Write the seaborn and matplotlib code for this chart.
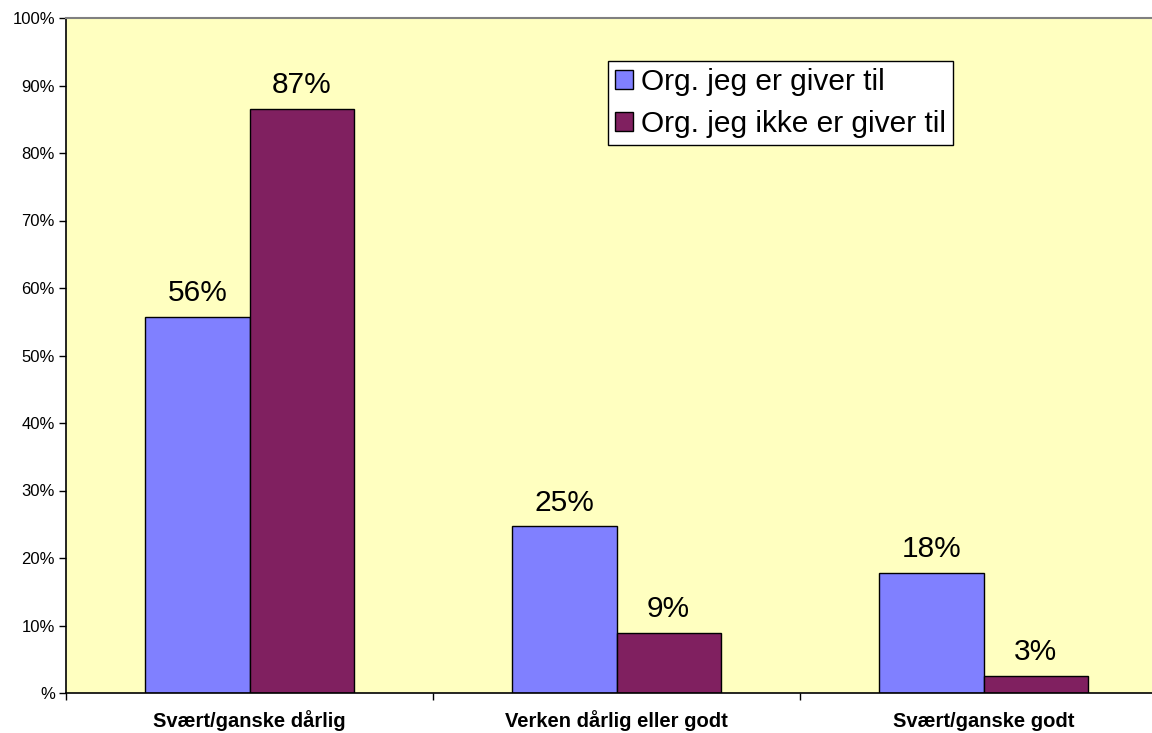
import matplotlib
matplotlib.use("Agg")
import matplotlib.pyplot as plt
import seaborn as sns
import pandas as pd
from matplotlib.ticker import FixedLocator, FuncFormatter

categories = ["Svært/ganske dårlig", "Verken dårlig eller godt", "Svært/ganske godt"]
series_names = ["Org. jeg er giver til", "Org. jeg ikke er giver til"]
giver = [55.7, 24.7, 17.8]
ikke_giver = [86.5, 8.9, 2.5]
value_labels_giver = ["56%", "25%", "18%"]
value_labels_ikke = ["87%", "9%", "3%"]
colors = ["#8080FF", "#802060"]

sns.set_theme(style="white")
plt.rcParams['font.family'] = ['Liberation Sans', 'DejaVu Sans']
plt.rcParams['text.color'] = 'black'
plt.rcParams['xtick.labelcolor'] = 'black'
plt.rcParams['ytick.labelcolor'] = 'black'

df = pd.DataFrame({
    "cat": categories * 2,
    "val": giver + ikke_giver,
    "series": [series_names[0]] * 3 + [series_names[1]] * 3,
})

fig = plt.figure(figsize=(11.52, 7.33), dpi=100)
ax = fig.add_axes([66 / 1152, 40 / 733, 1101 / 1152, 675 / 733])
ax.set_facecolor("#FFFFC0")

sns.barplot(data=df, x="cat", y="val", hue="series", palette=colors,
            width=0.567, gap=0, edgecolor="black", linewidth=1.0,
            saturation=1, ax=ax)

ax.set_xlim(-0.5, 2.5)
ax.set_ylim(0, 100)

labels_all = [value_labels_giver, value_labels_ikke]
for cont, labs in zip(ax.containers, labels_all):
    ax.bar_label(cont, labels=labs, padding=7, fontsize=21.5, color="black")

ax.yaxis.set_major_locator(FixedLocator(range(0, 101, 10)))
ax.yaxis.set_major_formatter(FuncFormatter(lambda v, p: "%" if v == 0 else f"{int(v)}%"))
ax.tick_params(axis="y", which="major", left=True, length=5, width=1, color="black",
               labelsize=12, pad=3)

ax.set_xticks([0, 1, 2])
ax.set_xticklabels(categories, fontsize=14.5, fontweight="bold")
for lab in ax.get_xticklabels():
    lab.set_verticalalignment("baseline")
ax.xaxis.set_minor_locator(FixedLocator([-0.5, 0.5, 1.5]))
ax.tick_params(axis="x", which="major", bottom=False, length=0, pad=24.5)
ax.tick_params(axis="x", which="minor", bottom=True, length=5, width=1, color="black")

ax.set_xlabel("")
ax.set_ylabel("")

for s in ["left", "bottom"]:
    ax.spines[s].set_color("black")
    ax.spines[s].set_linewidth(1.2)
ax.spines["top"].set_color("#808080")
ax.spines["top"].set_linewidth(1.5)
ax.spines["right"].set_visible(False)

leg = ax.legend(loc="upper left", bbox_to_anchor=(542 / 1101, (693 - 61) / 675),
                fontsize=21.5, frameon=True, fancybox=False, framealpha=1,
                edgecolor="black", facecolor="white", handlelength=0.6,
                handleheight=0.6, handletextpad=0.25, borderpad=0.25,
                labelspacing=0.45, borderaxespad=0)
leg.get_frame().set_linewidth(1.0)

fig.savefig("out.png", dpi=100)
